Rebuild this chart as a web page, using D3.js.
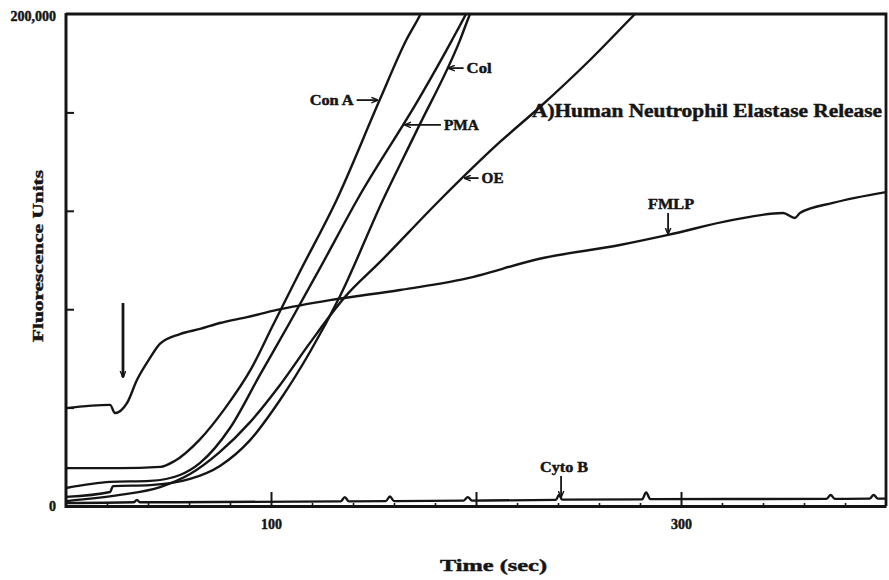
<!DOCTYPE html>
<html>
<head>
<meta charset="utf-8">
<script src="https://cdn.jsdelivr.net/npm/d3@7"></script>
<style>
  body { margin: 0; background: #fff; }
  text { font-family: "Liberation Serif", "Times New Roman", serif; font-weight: bold; fill: #151515;
         stroke: #151515; stroke-width: 0.45px; }
</style>
</head>
<body>
<svg id="chart" width="889" height="580"></svg>
<script>
  // traces: time (sec) / fluorescence units
  const conA_t = [0, 26, 46, 53, 65, 78, 90, 101, 114, 132, 153, 166, 173, 178];
  const conA_v = [15400, 15400, 15900, 18300, 26800, 40200, 55300, 73600, 95100, 124400, 165000, 189400, 200000, 209000];

  const pma_t = [0, 21.5, 41, 55.6, 65.4, 80, 94.6, 109.3, 123.9, 142, 172.7, 188.3, 195.1, 198];
  const pma_v = [7300, 9800, 10200, 12600, 17500, 31700, 53300, 74800, 96700, 124400, 166300, 189400, 200000, 204900];

  const col_t = [0, 21.5, 22.9, 41, 60.5, 75.1, 89.8, 104.4, 119, 133.7, 154.6, 171.2, 192.2, 197.1, 199.5];
  const col_v = [3700, 5700, 8100, 8500, 11000, 16300, 26800, 43100, 62600, 85400, 124400, 152800, 189400, 200000, 204500];

  const oe_t = [0, 26.3, 45.9, 60.5, 75.1, 89.8, 104.4, 119, 136.1, 153.2, 182.4, 211.7, 231.2, 255.6, 277.6, 282.4];
  const oe_v = [2000, 4500, 7700, 13000, 22000, 34100, 49200, 66300, 85000, 99200, 124400, 148000, 162200, 181300, 200000, 204000];

  const fmlp_t = [0, 21.5, 23.9, 29.8, 34.6, 41, 45.9, 55.6, 65.4, 75.1, 88.3, 102.9, 128.8, 162.9, 192.2, 232.7, 270.2, 293.7, 325.4, 349.8, 355.6, 358, 374.1, 400];
  const fmlp_v = [39800, 41100, 37800, 41900, 51200, 60200, 66000, 69900, 72000, 74400, 76800, 79700, 83700, 87800, 91900, 100800, 106100, 110200, 116300, 119100, 117100, 119100, 123200, 127600];

  const cyto_t = [0, 33, 34.6, 36, 134, 136, 138, 156, 158, 160, 194, 196, 198, 239, 240.5, 242, 281, 283, 285, 371, 373, 375, 392, 394, 396, 400];
  const cyto_v = [1200, 1500, 2500, 1500, 1900, 3600, 1900, 2000, 3900, 2000, 2200, 3600, 2200, 2500, 4500, 2600, 2700, 5500, 2800, 2900, 4500, 2900, 3000, 4500, 3000, 3000];

  // tick values
  const xMinorTicks = [20, 40, 60, 80, 120, 140, 160, 180, 220, 240, 260, 280, 320, 340, 360, 380];
  const xMajorTicks = [100, 200, 300];
  const xTickLabels = ["100", "", "300"];
  const yTicks = [40000, 80000, 120000, 160000];
  const yLabelTicks = [0, 200000];

  // annotations: curve label placed where the trace reaches a value / time
  const sideLabels = [
    { name: "Con A", at: 165000 },
    { name: "Col", at: 178000 },
    { name: "PMA", at: 154900 },
    { name: "OE", at: 133300 }
  ];
  const dropLabels = [
    { name: "FMLP", at: 293.7 },
    { name: "Cyto B", at: 241.5 }
  ];
  const stimulus = { t: 27.8, from: 82500, to: 52400 };

  const series = [
    { name: "Con A", t: conA_t, v: conA_v },
    { name: "PMA", t: pma_t, v: pma_v },
    { name: "Col", t: col_t, v: col_v },
    { name: "OE", t: oe_t, v: oe_v },
    { name: "FMLP", t: fmlp_t, v: fmlp_v },
    { name: "Cyto B", t: cyto_t, v: cyto_v }
  ];
  const byName = {};
  series.forEach(s => byName[s.name] = s);

  const svg = d3.select("#chart");
  const ink = "#151515";

  const x = d3.scaleLinear().domain([0, 400]).range([66, 886]);
  const y = d3.scaleLinear().domain([0, 200000]).range([506, 14]);

  svg.append("defs").append("clipPath").attr("id", "plot")
    .append("rect").attr("x", 66).attr("y", 14).attr("width", 820).attr("height", 492);

  svg.append("marker").attr("id", "head")
      .attr("viewBox", "0 -5 10 10").attr("refX", 9).attr("refY", 0)
      .attr("markerWidth", 7).attr("markerHeight", 7).attr("markerUnits", "userSpaceOnUse")
      .attr("orient", "auto")
    .append("path").attr("d", "M0,-4L10,0L0,4").attr("fill", "none")
      .attr("stroke", ink).attr("stroke-width", 2);

  // traces
  const line = d3.line()
    .x(d => x(d[0]))
    .y(d => y(d[1]))
    .curve(d3.curveMonotoneX);

  svg.append("g").attr("clip-path", "url(#plot)")
    .selectAll("path")
    .data(series)
    .join("path")
      .attr("d", s => line(d3.zip(s.t, s.v)))
      .attr("fill", "none")
      .attr("stroke", ink)
      .attr("stroke-width", 2.4)
      .attr("stroke-linejoin", "round");

  // frame: top and right edges
  svg.append("path")
    .attr("d", `M${x(0)},${y(200000)}H${x(400)}V${y(0)}`)
    .attr("fill", "none").attr("stroke", ink).attr("stroke-width", 2.8);

  // x axis: minor and major inward ticks
  svg.append("g")
    .attr("transform", `translate(0,${y(0)})`)
    .call(d3.axisBottom(x).tickValues(xMinorTicks).tickSize(-3).tickSizeOuter(0).tickFormat(""))
    .call(g => g.select(".domain").remove())
    .call(g => g.selectAll("line").attr("stroke", ink).attr("stroke-width", 1.6));

  svg.append("g")
    .attr("transform", `translate(0,${y(0)})`)
    .call(d3.axisBottom(x).tickValues(xMajorTicks).tickSize(-14).tickSizeOuter(0)
      .tickPadding(13).tickFormat((d, i) => xTickLabels[i]))
    .call(g => g.select(".domain").attr("stroke", ink).attr("stroke-width", 3))
    .call(g => g.selectAll("line").attr("stroke", ink).attr("stroke-width", 2))
    .call(g => g.selectAll("text").attr("font-size", 14).attr("font-family", null));

  // y axis
  svg.append("g")
    .attr("transform", `translate(${x(0)},0)`)
    .call(d3.axisLeft(y).tickValues(yTicks).tickSize(-8).tickSizeOuter(0).tickFormat(""))
    .call(g => g.select(".domain").attr("stroke", ink).attr("stroke-width", 3)
      .attr("d", `M0,${y(200000) - 1}V${y(0) + 2}`))
    .call(g => g.selectAll("line").attr("stroke", ink).attr("stroke-width", 2));

  svg.append("g")
    .attr("transform", `translate(${x(0)},0)`)
    .call(d3.axisLeft(y).tickValues(yLabelTicks).tickSize(0).tickPadding(10).tickFormat(d3.format(",")))
    .call(g => g.select(".domain").remove())
    .call(g => g.selectAll("text").attr("font-size", 14).attr("font-family", null)
      .attr("dy", (d) => d === 0 ? "0.3em" : "0.45em"));

  // axis titles
  svg.append("text")
    .attr("x", 440).attr("y", 571)
    .attr("font-size", 17)
    .attr("textLength", 107).attr("lengthAdjust", "spacingAndGlyphs")
    .text("Time (sec)");

  svg.append("text")
    .attr("transform", "translate(43,342) rotate(-90)")
    .attr("font-size", 15)
    .attr("textLength", 172).attr("lengthAdjust", "spacingAndGlyphs")
    .text("Fluorescence Units");

  // panel title
  svg.append("text")
    .attr("x", 532).attr("y", 117)
    .attr("font-size", 18)
    .attr("textLength", 350).attr("lengthAdjust", "spacingAndGlyphs")
    .text("A)Human Neutrophil Elastase Release");

  // helpers to find points on a trace
  function valueAt(s, t) {
    for (let i = 1; i < s.t.length; i++) {
      if (t <= s.t[i]) {
        const f = (t - s.t[i - 1]) / (s.t[i] - s.t[i - 1]);
        return s.v[i - 1] + f * (s.v[i] - s.v[i - 1]);
      }
    }
    return s.v[s.v.length - 1];
  }
  function timeAt(s, v) {
    for (let i = 1; i < s.v.length; i++) {
      if (v <= s.v[i] && v >= s.v[i - 1]) {
        const f = (v - s.v[i - 1]) / (s.v[i] - s.v[i - 1]);
        return s.t[i - 1] + f * (s.t[i] - s.t[i - 1]);
      }
    }
    return s.t[s.t.length - 1];
  }

  // labels with horizontal arrows
  const arrowLen = { "Con A": 22, "Col": 16, "PMA": 37, "OE": 15 };
  const labelWidth = { "Con A": 44, "Col": 25, "PMA": 35, "OE": 22, "FMLP": 46, "Cyto B": 48 };
  const notes = svg.append("g");
  sideLabels.forEach(l => {
    const s = byName[l.name];
    const tx = x(timeAt(s, l.at)), ty = y(l.at);
    const len = arrowLen[l.name];
    const dir = l.name === "Con A" ? -1 : 1;
    notes.append("line")
      .attr("x1", tx + dir * (len + 1)).attr("y1", ty)
      .attr("x2", tx + dir * 2).attr("y2", ty)
      .attr("stroke", ink).attr("stroke-width", 1.8)
      .attr("marker-end", "url(#head)");
    notes.append("text")
      .attr("x", dir < 0 ? tx - len - 4 - labelWidth[l.name] : tx + len + 4)
      .attr("y", ty + 5)
      .attr("font-size", 14)
      .attr("textLength", labelWidth[l.name]).attr("lengthAdjust", "spacingAndGlyphs")
      .text(l.name);
  });

  // labels with downward arrows
  dropLabels.forEach(l => {
    const s = byName[l.name];
    const tx = x(l.at), ty = y(valueAt(s, l.at));
    notes.append("line")
      .attr("x1", tx).attr("y1", ty - 22)
      .attr("x2", tx).attr("y2", ty - 1)
      .attr("stroke", ink).attr("stroke-width", 1.8)
      .attr("marker-end", "url(#head)");
    notes.append("text")
      .attr("x", tx + 3 - labelWidth[l.name] / 2).attr("y", ty - 26)
      .attr("font-size", 14)
      .attr("textLength", labelWidth[l.name]).attr("lengthAdjust", "spacingAndGlyphs")
      .text(l.name);
  });

  // stimulus arrow
  notes.append("line")
    .attr("x1", x(stimulus.t)).attr("y1", y(stimulus.from))
    .attr("x2", x(stimulus.t)).attr("y2", y(stimulus.to))
    .attr("stroke", ink).attr("stroke-width", 2.8)
    .attr("marker-end", "url(#head)");
</script>
</body>
</html>
